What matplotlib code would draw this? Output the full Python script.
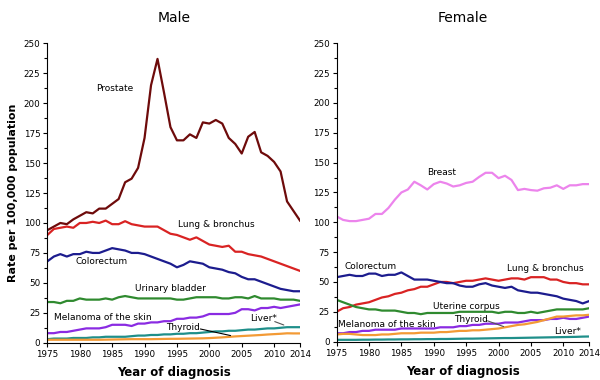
import numpy as np
import matplotlib
matplotlib.use('Agg')
import matplotlib.pyplot as plt
from matplotlib.ticker import MultipleLocator

years = np.arange(1975, 2015)

# Male incidence rates per 100,000
m_prostate = [94, 97, 100, 99, 103, 106, 109, 108, 112, 112, 116, 120, 134, 137, 146, 171, 215, 237, 209, 180,
              169, 169, 174, 171, 184, 183, 186, 183, 171, 166, 158, 172, 176, 159, 156, 151, 143, 118, 110, 102]
m_lung = [90, 95, 96, 97, 96, 100, 100, 101, 100, 102, 99, 99, 101.5, 99, 98, 97, 97, 97, 94, 91,
          90, 88, 86, 88, 85, 82, 81, 80, 81, 76, 76, 74, 73, 72, 70, 68, 66, 64, 62, 60]
m_colorectum = [68, 72, 74, 72, 74, 74, 76, 75, 75, 77, 79, 78, 77, 75, 75, 74, 72, 70, 68, 66,
                63, 65, 68, 67, 66, 63, 62, 61, 59, 58, 55, 53, 53, 51, 49, 47, 45, 44, 43, 43]
m_bladder = [34, 34, 33, 35, 35, 37, 36, 36, 36, 37, 36, 38, 39, 38, 37, 37, 37, 37, 37, 37,
             36, 36, 37, 38, 38, 38, 38, 37, 37, 38, 38, 37, 39, 37, 37, 37, 36, 36, 36, 35]
m_melanoma = [8, 8, 9, 9, 10, 11, 12, 12, 12, 13, 15, 15, 15, 14, 16, 16, 17, 17, 18, 18,
              20, 20, 21, 21, 22, 24, 24, 24, 24, 25, 28, 28, 27, 29, 29, 30, 29, 30, 31, 32]
m_liver = [3, 3.5, 3.5, 3.5, 4, 4, 4, 4.5, 4.5, 5, 5, 5, 5, 5.5, 6, 6, 6.5, 6.5, 7, 7,
           7.5, 7.5, 8, 8, 8.5, 9, 9.5, 9.5, 10, 10, 10.5, 11, 11, 11.5, 12, 12, 12.5, 13, 13, 13]
m_thyroid = [2.5, 2.5, 2.5, 2.5, 2.5, 2.5, 2.5, 2.5, 2.5, 2.6, 2.7, 2.8, 2.9, 3, 3, 3, 3, 3.1, 3.2, 3.3,
             3.3, 3.4, 3.5, 3.6, 3.7, 3.9, 4.2, 4.5, 4.9, 5.3, 5.6, 5.9, 6.2, 6.5, 6.9, 7.2, 7.5, 7.9, 7.8, 7.8]

# Female incidence rates per 100,000
f_breast = [105, 102, 101, 101, 102, 103, 107, 107, 112, 119, 125, 127.5, 134, 131, 127.5, 132, 134, 132.5, 130, 131,
            133, 134, 138, 141.5, 141.5, 137, 139, 135.5, 127, 128, 127, 126.5, 128.5, 129, 131, 128, 131, 131, 132, 132]
f_lung = [25, 28, 29, 31, 32, 33, 35, 37, 38, 40, 41, 43, 44, 46, 46, 48, 50, 50, 49, 50,
          51, 51, 52, 53, 52, 51, 52, 53, 53, 52, 54, 54, 54, 52, 52, 50, 49, 49, 48, 48]
f_colorectum = [54, 55, 56, 55, 55, 57, 57, 55, 56, 56, 58, 55, 52, 52, 52, 51, 50, 49, 49, 47,
                46, 46, 48, 49, 47, 46, 45, 46, 43, 42, 41, 41, 40, 39, 38, 36, 35, 34, 32, 34]
f_uterine = [35, 33, 31, 29, 28, 27, 27, 26, 26, 26, 25, 24, 24, 23, 24, 24, 24, 24, 24, 25,
             25, 25, 25, 25, 25, 24, 25, 25, 24, 24, 25, 24, 25, 26, 27, 27, 27, 27, 27, 28]
f_melanoma = [7, 7, 8, 8, 9, 9, 10, 10, 10, 10, 11, 11, 11, 11, 11, 11, 12, 12, 12, 13,
              13, 14, 14, 15, 15, 15, 16, 16, 16, 17, 18, 18, 18, 19, 19, 20, 19, 19, 20, 21]
f_thyroid = [6, 6.5, 6.5, 6, 5.5, 5.5, 5.5, 6, 6, 6.5, 7, 7, 7, 7.5, 7.5, 7.5, 8, 8, 8.5, 9,
             9, 9.5, 9.5, 10, 10.5, 11, 12, 13, 14, 14.5, 15.5, 16.5, 18, 19.5, 21, 21, 21.5, 22, 22, 22.5]
f_liver = [1.5, 1.5, 1.5, 1.5, 1.6, 1.6, 1.7, 1.7, 1.8, 1.8, 1.9, 1.9, 2, 2, 2.1, 2.1, 2.2, 2.2, 2.3, 2.4,
           2.5, 2.5, 2.6, 2.7, 2.8, 2.9, 3, 3, 3.1, 3.2, 3.3, 3.4, 3.5, 3.6, 3.7, 3.8, 3.9, 4, 4.2, 4.3]

c_prostate = '#6e0b0b'
c_lung = '#d92323'
c_colo = '#1c1c8e'
c_green = '#2f8a2f'
c_mel = '#8a2be2'
c_liver = '#1f8f8a'
c_thy = '#f39a35'
c_breast = '#ec84ec'

fig = plt.figure(figsize=(6, 3.8), dpi=100)
axL = fig.add_axes([0.079, 0.098, 0.421, 0.788])
axR = fig.add_axes([0.561, 0.101, 0.421, 0.785])

lw = 1.6
axL.plot(years, m_prostate, color=c_prostate, lw=lw)
axL.plot(years, m_lung, color=c_lung, lw=lw)
axL.plot(years, m_colorectum, color=c_colo, lw=lw)
axL.plot(years, m_bladder, color=c_green, lw=lw)
axL.plot(years, m_melanoma, color=c_mel, lw=lw)
axL.plot(years, m_liver, color=c_liver, lw=lw)
axL.plot(years, m_thyroid, color=c_thy, lw=lw)

axR.plot(years, f_breast, color=c_breast, lw=lw)
axR.plot(years, f_lung, color=c_lung, lw=lw)
axR.plot(years, f_colorectum, color=c_colo, lw=lw)
axR.plot(years, f_uterine, color=c_green, lw=lw)
axR.plot(years, f_melanoma, color=c_mel, lw=lw)
axR.plot(years, f_thyroid, color=c_thy, lw=lw)
axR.plot(years, f_liver, color=c_liver, lw=lw)

fs = 6.5
axL.text(1982.6, 212, 'Prostate', fontsize=fs, va='center')
axL.text(1995.2, 98.7, 'Lung & bronchus', fontsize=fs, va='center')
axL.text(1979.4, 67.5, 'Colorectum', fontsize=fs, va='center')
axL.text(1988.5, 45, 'Urinary bladder', fontsize=fs, va='center')
axL.text(1976, 21, 'Melanoma of the skin', fontsize=fs, va='center')
axL.text(1993.3, 12.5, 'Thyroid', fontsize=fs, va='center')
axL.text(2006.3, 20, 'Liver*', fontsize=fs, va='center')
axL.annotate('', xy=(2003.7, 5.5), xytext=(1998.2, 12),
             arrowprops=dict(arrowstyle='-', color='black', lw=0.8))
axL.annotate('', xy=(2011.9, 14), xytext=(2009.7, 18.5),
             arrowprops=dict(arrowstyle='-', color='#555555', lw=0.8))

axR.text(1989, 141.5, 'Breast', fontsize=fs, va='center')
axR.text(1976.2, 62.8, 'Colorectum', fontsize=fs, va='center')
axR.text(2001.3, 61.5, 'Lung & bronchus', fontsize=fs, va='center')
axR.text(1989.9, 29.3, 'Uterine corpus', fontsize=fs, va='center')
axR.text(1975.2, 14.5, 'Melanoma of the skin', fontsize=fs, va='center')
axR.text(1993.1, 18.2, 'Thyroid', fontsize=fs, va='center')
axR.text(2008.6, 8.4, 'Liver*', fontsize=fs, va='center')
axR.annotate('', xy=(2001.2, 11.8), xytext=(1997.9, 18.2),
             arrowprops=dict(arrowstyle='-', color='#555555', lw=0.8))

for ax, title in [(axL, 'Male'), (axR, 'Female')]:
    ax.set_xlim(1975, 2014)
    ax.set_ylim(0, 250)
    ax.set_xticks([1975, 1980, 1985, 1990, 1995, 2000, 2005, 2010, 2014])
    ax.yaxis.set_major_locator(MultipleLocator(25))
    ax.yaxis.set_minor_locator(MultipleLocator(12.5))
    ax.spines['top'].set_visible(False)
    ax.spines['right'].set_visible(False)
    ax.tick_params(axis='both', which='major', labelsize=6.3, length=3, width=0.8, pad=2)
    ax.tick_params(axis='y', which='minor', length=2, width=0.8)
    ax.set_xlabel('Year of diagnosis', fontsize=8.5, fontweight='bold', labelpad=5)
    ax.set_title(title, fontsize=10, pad=15)

axL.set_ylabel('Rate per 100,000 population', fontsize=8, fontweight='bold', labelpad=4)

fig.savefig('out.png', dpi=100)
